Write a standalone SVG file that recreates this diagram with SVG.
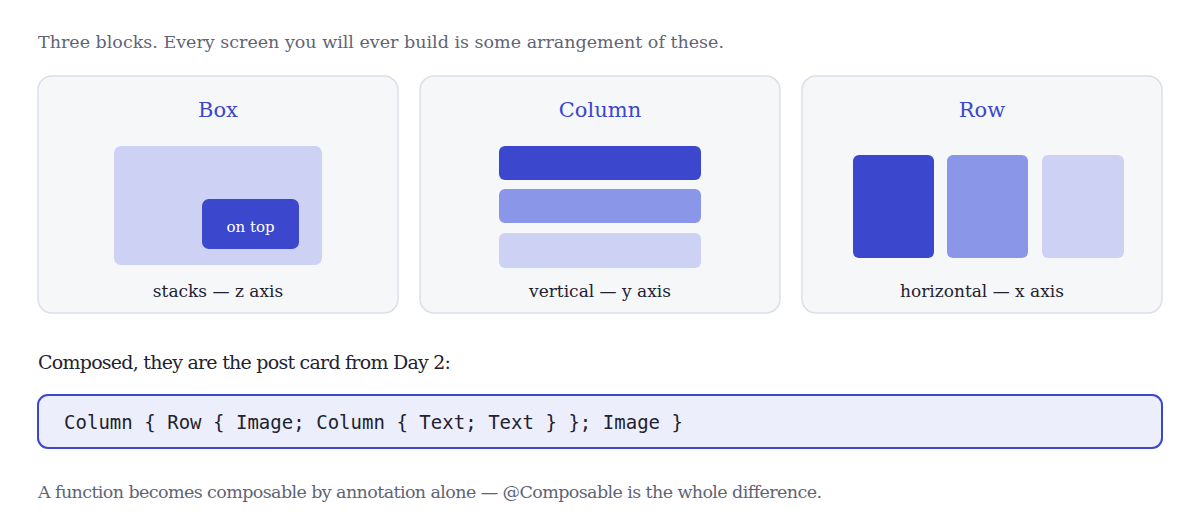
<svg xmlns="http://www.w3.org/2000/svg" width="1200" height="521" viewBox="0 0 1200 521">
<style>
.serif{font-family:"DejaVu Serif","Liberation Serif",serif}
.card{fill:#f6f7f9;stroke:#dcdfe8;stroke-width:1.5}
.t{font-size:21px;fill:#3b47cc;text-anchor:middle}
.l{font-size:17px;fill:#1f2230;text-anchor:middle}
.c1{fill:#3b47cc}.c2{fill:#8a96e8}.c3{fill:#cdd2f5}
</style>
<rect width="1200" height="521" fill="#ffffff"/>
<text class="serif" x="38" y="48" font-size="17.5" fill="#5f6475" textLength="686">Three blocks. Every screen you will ever build is some arrangement of these.</text>
<g id="box">
<rect class="card" x="38" y="76" width="360" height="237" rx="14"/>
<text class="serif t" x="218" y="117">Box</text>
<rect class="c3" x="114" y="146" width="208" height="119" rx="7"/>
<rect class="c1" x="202" y="199" width="97" height="50" rx="7"/>
<text class="serif" x="250.5" y="232" font-size="15" fill="#ffffff" text-anchor="middle">on top</text>
<text class="serif l" x="218" y="297">stacks — z axis</text>
</g>
<g id="column">
<rect class="card" x="420" y="76" width="360" height="237" rx="14"/>
<text class="serif t" x="600" y="117">Column</text>
<rect class="c1" x="499" y="146" width="202" height="34" rx="6"/>
<rect class="c2" x="499" y="189" width="202" height="34" rx="6"/>
<rect class="c3" x="499" y="233" width="202" height="35" rx="6"/>
<text class="serif l" x="600" y="297">vertical — y axis</text>
</g>
<g id="row">
<rect class="card" x="802" y="76" width="360" height="237" rx="14"/>
<text class="serif t" x="982" y="117">Row</text>
<rect class="c1" x="853" y="155" width="81" height="103" rx="6"/>
<rect class="c2" x="947" y="155" width="81" height="103" rx="6"/>
<rect class="c3" x="1042" y="155" width="82" height="103" rx="6"/>
<text class="serif l" x="982" y="297">horizontal — x axis</text>
</g>
<text class="serif" x="38" y="369" font-size="19" fill="#1f2230" textLength="413">Composed, they are the post card from Day 2:</text>
<g id="code">
<rect x="38" y="395" width="1124" height="53" rx="10" fill="#eceefb" stroke="#3b47cc" stroke-width="2"/>
<text x="64" y="429" font-family="DejaVu Sans Mono,monospace" font-size="19" fill="#1f2230" textLength="619">Column { Row { Image; Column { Text; Text } }; Image }</text>
</g>
<text class="serif" x="38" y="498" font-size="17.5" fill="#5f6475" textLength="784">A function becomes composable by annotation alone — @Composable is the whole difference.</text>
</svg>
